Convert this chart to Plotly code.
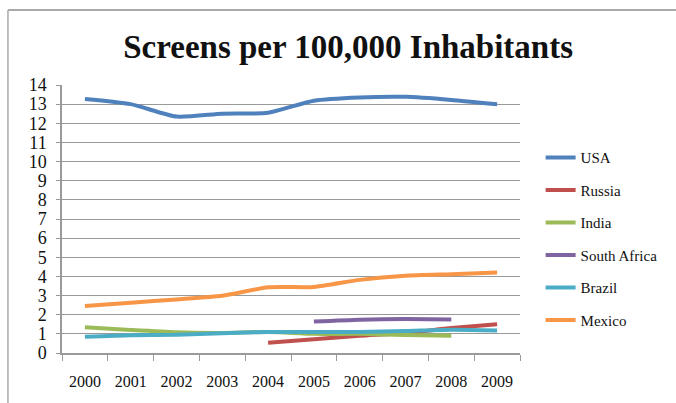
import plotly.graph_objects as go

years = ["2000", "2001", "2002", "2003", "2004", "2005", "2006", "2007", "2008", "2009"]
usa = [13.27, 13.0, 12.35, 12.5, 12.55, 13.18, 13.35, 13.38, 13.22, 13.0]
russia = [None, None, None, None, 0.54, 0.72, 0.9, 1.05, 1.3, 1.5]
india = [1.34, 1.2, 1.08, 1.05, 1.1, 1.0, 1.0, 0.94, 0.9, None]
south_africa = [None, None, None, None, None, 1.64, 1.74, 1.77, 1.75, None]
brazil = [0.85, 0.93, 0.95, 1.03, 1.1, 1.1, 1.1, 1.15, 1.22, 1.18]
mexico = [2.45, 2.63, 2.8, 2.99, 3.43, 3.45, 3.82, 4.04, 4.12, 4.2]

series = [
    ("USA", usa, "#4F81BD"),
    ("Russia", russia, "#C0504D"),
    ("India", india, "#9BBB59"),
    ("South Africa", south_africa, "#8064A2"),
    ("Brazil", brazil, "#4BACC6"),
    ("Mexico", mexico, "#F79646"),
]

fig = go.Figure()
for name, vals, color in series:
    fig.add_trace(go.Scatter(
        x=years, y=vals, name=name, mode="lines",
        line=dict(color=color, width=4, shape="spline", smoothing=0.6),
        legendgroup=name,
    ))

serif = "Liberation Serif"
fig.update_layout(
    template="none",
    width=676, height=403,
    margin=dict(l=62, r=156, t=85, b=50),
    paper_bgcolor="white", plot_bgcolor="white",
    font=dict(family=serif, size=16, color="#111"),
    title=dict(text="<b>Screens per 100,000 Inhabitants</b>",
               font=dict(family=serif, size=33, color="#111"),
               x=0.515, xanchor="center", y=0.885, yanchor="middle"),
    showlegend=True,
    legend=dict(x=1.045, xanchor="left", y=0.79, yanchor="top",
                font=dict(family=serif, size=15, color="#111"),
                tracegroupgap=10, bgcolor="rgba(0,0,0,0)"),
    xaxis=dict(type="category", range=[-0.5, 9.5], showgrid=False,
               showline=True, linecolor="#999", linewidth=1.5,
               ticks="outside", ticklen=6, tickcolor="#999",
               tickson="boundaries", fixedrange=True,
               ticklabelstandoff=13,
               tickfont=dict(family=serif, size=16, color="#111")),
    yaxis=dict(range=[0, 14], dtick=1, showgrid=True, gridcolor="#999", gridwidth=1.2,
               showline=True, linecolor="#999", linewidth=1.5,
               ticks="outside", ticklen=4, tickcolor="#999",
               zeroline=False, fixedrange=True,
               ticklabelstandoff=6,
               tickfont=dict(family=serif, size=18, color="#111")),
    shapes=[
        dict(type="line", xref="paper", yref="paper", x0=-0.118, x1=1.35,
             y0=1.28, y1=1.28, line=dict(color="#aaa", width=2)),
        dict(type="line", xref="paper", yref="paper", x0=-0.118, x1=-0.118,
             y0=1.28, y1=-0.2, line=dict(color="#aaa", width=1.5)),
    ],
)

fig.write_html("out.html")
